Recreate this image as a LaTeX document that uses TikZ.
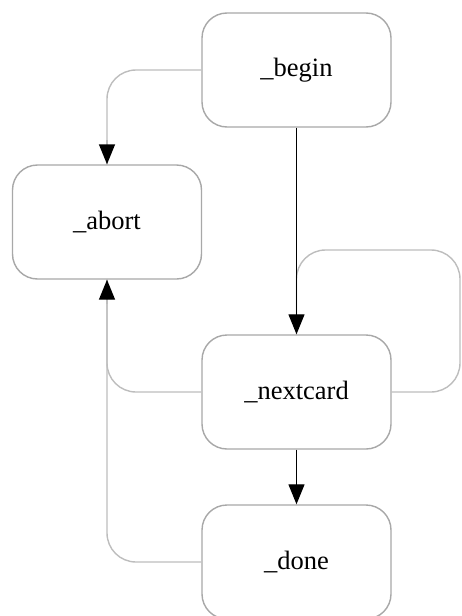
\documentclass[tikz,border=0pt]{standalone}
\usepackage{fontspec}
\setmainfont{Liberation Serif}
\usetikzlibrary{arrows.meta}
\definecolor{boxgray}{HTML}{A8A8A8}
\definecolor{edgegray}{HTML}{BDBDBD}
\tikzset{
  state/.style={draw=boxgray, line width=1.4pt, rounded corners=25pt, minimum width=189pt, minimum height=114pt, inner sep=0pt, font=\fontsize{26.5}{30}\selectfont, fill=white},
  grayedge/.style={draw=edgegray, line width=1.4pt, rounded corners=29pt},
  blackedge/.style={draw=black, line width=1.3pt},
  tip/.style={-{Triangle[length=20pt,width=16pt,color=black]}},
}
\begin{document}
\begin{tikzpicture}[x=1pt,y=1pt]
\useasboundingbox (0,0) rectangle (461,-616);
\node[state] (begin) at (296.5,-70) {\_begin};
\node[state] (abort) at (107,-222) {\_abort};
\node[state] (nextcard) at (296.5,-392) {\_nextcard};
\node[state] (done) at (296.5,-562) {\_done};
\coordinate (loopR) at (460,-392);
\coordinate (loopTR) at (460,-250);
\coordinate (loopTL) at (296.5,-250);
\coordinate (abortIn) at (107,-140);
\coordinate (abortOut) at (107,-304);
% gray edges
\draw[grayedge] (begin.west) -| (abort.north);
\draw[grayedge] (nextcard.west) -| (abort.south);
\draw[grayedge] (done.west) -| (abort.south);
\draw[grayedge] (nextcard.east) -- (loopR) -- (loopTR) -- (loopTL) -- (nextcard.north);
% arrowheads on gray edges
\draw[draw=edgegray, line width=1.4pt, tip] (abortIn) -- (abort.north);
\draw[draw=edgegray, line width=1.4pt, tip] (abortOut) -- (abort.south);
% black edges
\draw[blackedge, tip] (begin.south) -- (nextcard.north);
\draw[blackedge, tip] (nextcard.south) -- (done.north);
\end{tikzpicture}
\end{document}
